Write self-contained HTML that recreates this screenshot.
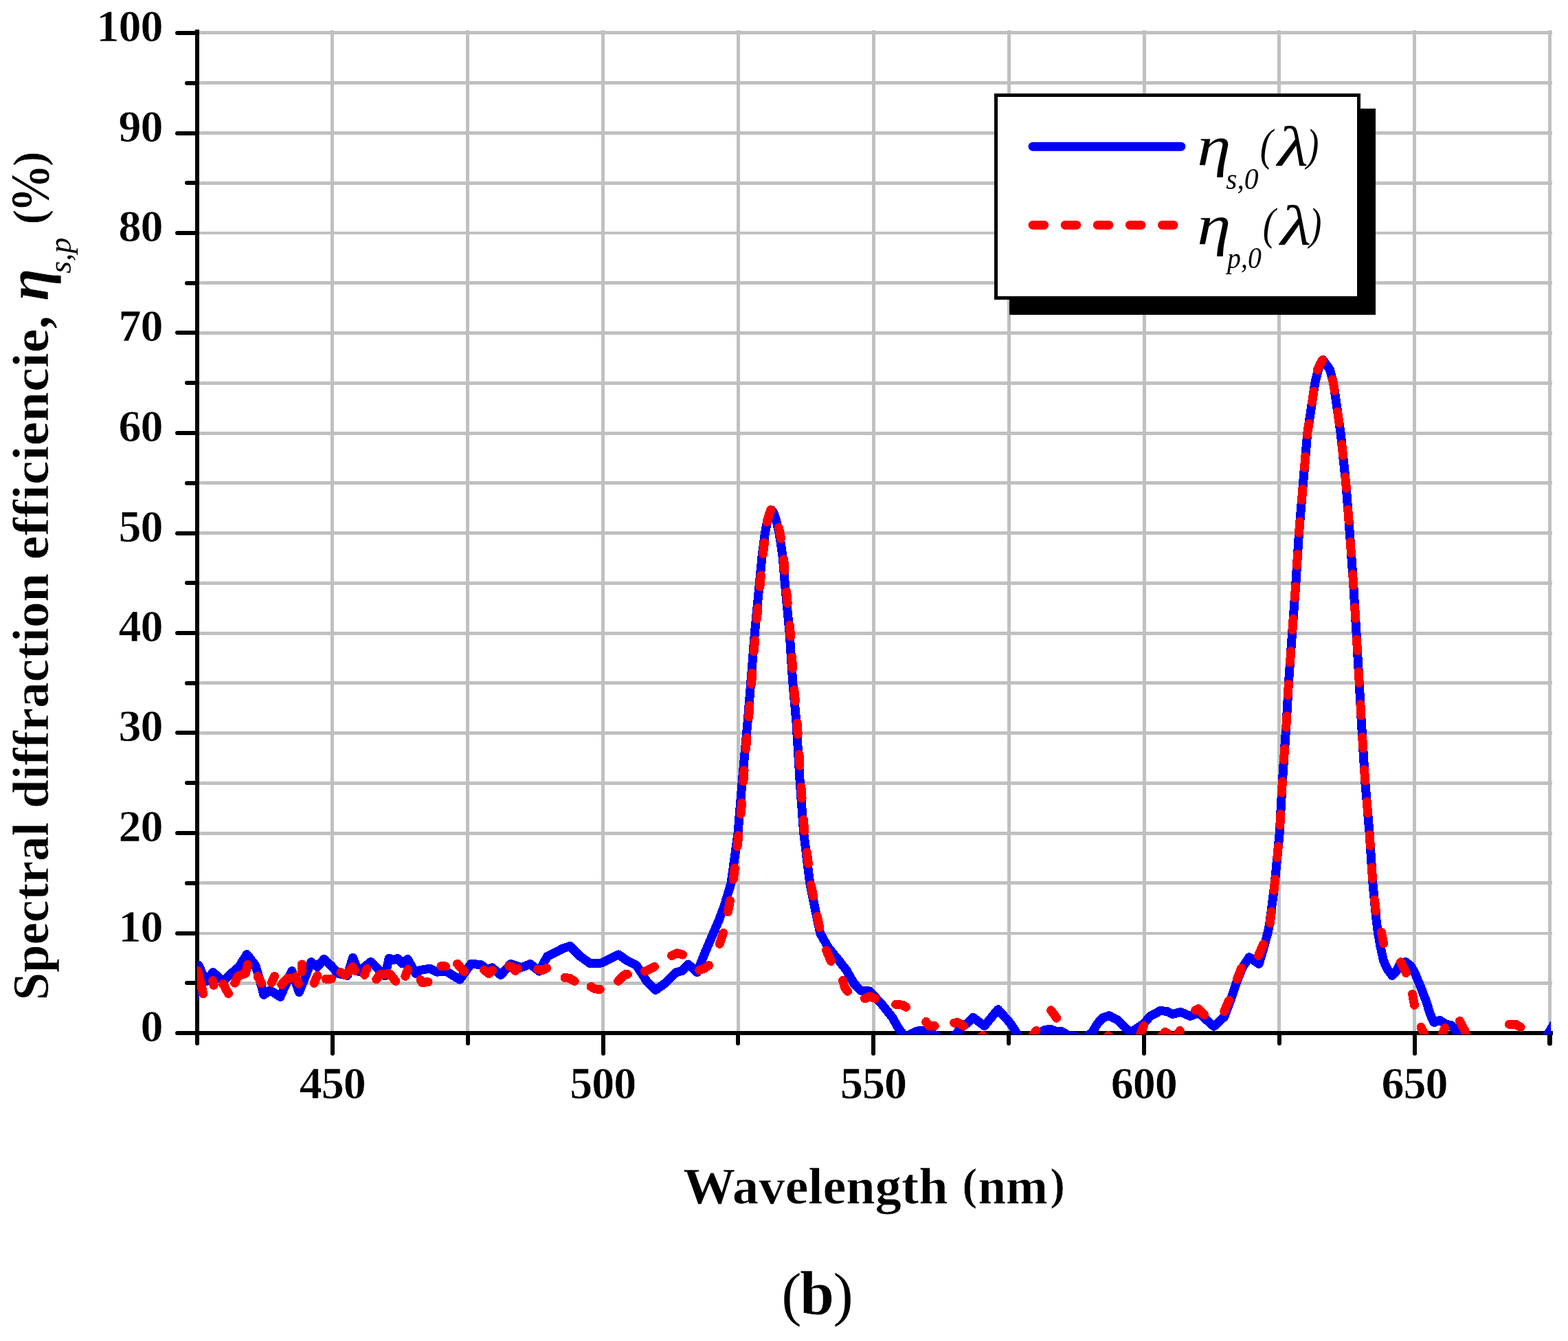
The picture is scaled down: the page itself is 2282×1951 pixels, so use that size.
<!DOCTYPE html>
<html lang="en"><head><meta charset="utf-8"><title>Spectral diffraction efficiency (b)</title>
<style>
html,body{margin:0;padding:0;background:#fff;}
body{width:2282px;height:1951px;overflow:hidden;}
svg{display:block;}
text{font-family:"Liberation Serif","DejaVu Serif",serif;fill:#000;}
.b{font-weight:bold;stroke:#fff;stroke-width:0.6px;}
.i{font-style:italic;}
.bi{font-weight:bold;font-style:italic;stroke:#fff;stroke-width:0.6px;}
.g{fill:#c0c0c0;}
.k{fill:#000;}
.blue{fill:none;stroke:#0000ff;stroke-width:13;stroke-linecap:round;stroke-linejoin:round;}
.red{fill:none;stroke:#ff0000;stroke-width:13;stroke-linecap:round;stroke-linejoin:round;}
</style></head><body>
<svg width="2282" height="1951" viewBox="0 0 2282 1951">
<defs><clipPath id="plotclip"><rect x="287" y="0" width="1970" height="1505"/></clipPath></defs>
<rect x="0" y="0" width="2282" height="1951" fill="#fff"/>
<g class="g" shape-rendering="crispEdges">
<rect x="287" y="1428" width="1972" height="5"/>
<rect x="287" y="1356" width="1972" height="4"/>
<rect x="287" y="1282" width="1972" height="5"/>
<rect x="287" y="1210" width="1972" height="5"/>
<rect x="287" y="1137" width="1972" height="5"/>
<rect x="287" y="1064" width="1972" height="5"/>
<rect x="287" y="991" width="1972" height="5"/>
<rect x="287" y="919" width="1972" height="5"/>
<rect x="287" y="846" width="1972" height="5"/>
<rect x="287" y="773" width="1972" height="5"/>
<rect x="287" y="700" width="1972" height="5"/>
<rect x="287" y="628" width="1972" height="5"/>
<rect x="287" y="555" width="1972" height="5"/>
<rect x="287" y="482" width="1972" height="5"/>
<rect x="287" y="409" width="1972" height="5"/>
<rect x="287" y="337" width="1972" height="4"/>
<rect x="287" y="264" width="1972" height="5"/>
<rect x="287" y="191" width="1972" height="5"/>
<rect x="287" y="118" width="1972" height="5"/>
<rect x="287" y="45" width="1972" height="5"/>
<rect x="481" y="44" width="5" height="1459"/>
<rect x="678" y="44" width="5" height="1459"/>
<rect x="875" y="44" width="5" height="1459"/>
<rect x="1072" y="44" width="5" height="1459"/>
<rect x="1269" y="44" width="5" height="1459"/>
<rect x="1466" y="44" width="5" height="1459"/>
<rect x="1663" y="44" width="5" height="1459"/>
<rect x="1859" y="44" width="5" height="1459"/>
<rect x="2056" y="44" width="5" height="1459"/>
<rect x="2253" y="44" width="5" height="1459"/>
</g>
<g class="k" shape-rendering="crispEdges">
<rect x="284" y="43" width="6" height="1463"/>
<rect x="284" y="1500" width="1976" height="6"/>
</g>
<g stroke="#000" stroke-width="6" stroke-linecap="round" fill="none">
<path d="M258 1503H286"/>
<path d="M272 1430H286"/>
<path d="M258 1358H286"/>
<path d="M272 1285H286"/>
<path d="M258 1212H286"/>
<path d="M272 1139H286"/>
<path d="M258 1066H286"/>
<path d="M272 994H286"/>
<path d="M258 921H286"/>
<path d="M272 848H286"/>
<path d="M258 776H286"/>
<path d="M272 703H286"/>
<path d="M258 630H286"/>
<path d="M272 557H286"/>
<path d="M258 484H286"/>
<path d="M272 412H286"/>
<path d="M258 339H286"/>
<path d="M272 266H286"/>
<path d="M258 194H286"/>
<path d="M272 121H286"/>
<path d="M258 48H286"/>
<path d="M287 1504V1518"/>
<path d="M484 1504V1532.8"/>
<path d="M681 1504V1518"/>
<path d="M878 1504V1532.8"/>
<path d="M1074 1504V1518"/>
<path d="M1271 1504V1532.8"/>
<path d="M1468 1504V1518"/>
<path d="M1665 1504V1532.8"/>
<path d="M1862 1504V1518"/>
<path d="M2059 1504V1532.8"/>
<path d="M2255.5 1504V1518" stroke-width="7"/>
</g>
<g clip-path="url(#plotclip)" shape-rendering="crispEdges">
<path class="blue" d="M283.0 1452.0 L289.0 1404.5 L300.0 1428.0 L309.9 1414.5 L324.4 1427.5 L337.9 1415.0 L347.6 1406.8 L359.3 1388.5 L371.7 1404.4 L378.0 1425.0 L383.8 1447.4 L392.9 1440.7 L407.9 1450.3 L424.8 1412.6 L435.4 1443.6 L452.8 1399.6 L462.0 1406.6 L471.6 1395.3 L482.2 1405.3 L491.9 1416.3 L505.4 1419.4 L513.6 1393.5 L521.8 1413.4 L529.5 1407.6 L539.6 1399.4 L546.9 1406.6 L560.4 1419.9 L566.2 1394.0 L572.0 1397.0 L578.7 1394.5 L585.5 1401.8 L593.2 1395.4 L599.0 1405.6 L604.8 1416.3 L611.5 1411.4 L626.0 1409.2 L635.7 1414.1 L650.0 1413.5 L669.0 1425.2 L685.4 1402.5 L699.8 1403.4 L709.5 1410.6 L716.3 1407.8 L728.8 1418.5 L743.3 1402.5 L758.7 1407.6 L771.8 1402.5 L784.8 1413.2 L796.4 1391.6 L808.0 1385.6 L819.0 1380.0 L829.5 1376.5 L844.1 1391.2 L858.6 1401.5 L875.0 1401.0 L887.6 1395.2 L900.1 1388.9 L911.7 1396.9 L926.2 1404.5 L935.8 1419.0 L940.7 1426.9 L954.2 1440.4 L967.7 1430.7 L984.1 1414.8 L992.8 1412.4 L1001.5 1402.9 L1014.5 1414.5 L1025.1 1388.3 L1038.1 1357.9 L1045.8 1340.0 L1053.9 1318.5 L1064.0 1285.0 L1074.0 1212.1 L1080.0 1139.3 L1088.1 1050.0 L1092.7 993.6 L1098.4 921.1 L1105.4 848.3 L1108.9 810.4 L1113.4 775.5 L1116.3 760.2 L1120.5 746.0 L1123.3 742.4 L1126.5 747.0 L1130.5 760.2 L1134.0 775.5 L1139.2 810.4 L1142.3 848.3 L1149.1 921.1 L1153.8 993.6 L1158.9 1050.0 L1164.3 1139.3 L1169.7 1212.1 L1178.7 1285.0 L1189.9 1340.0 L1193.8 1357.9 L1205.4 1378.6 L1221.3 1397.9 L1232.4 1412.4 L1242.5 1430.4 L1252.7 1441.4 L1265.2 1441.8 L1283.1 1460.7 L1298.5 1480.0 L1306.7 1494.4 L1313.5 1504.0 L1320.0 1510.0 L1326.0 1504.0 L1333.7 1500.4 L1340.0 1499.0 L1350.0 1501.0 L1359.3 1505.6 L1380.6 1517.0 L1391.2 1504.5 L1402.7 1490.8 L1407.5 1489.0 L1416.3 1480.4 L1432.7 1492.6 L1452.5 1468.6 L1470.3 1488.6 L1478.0 1500.0 L1484.0 1515.0 L1505.0 1514.0 L1512.0 1503.0 L1520.0 1498.5 L1528.2 1497.2 L1537.0 1500.5 L1545.0 1500.7 L1556.7 1507.2 L1563.0 1507.0 L1572.0 1510.5 L1579.8 1508.4 L1589.5 1502.2 L1597.2 1489.1 L1604.9 1480.9 L1614.1 1477.5 L1626.2 1483.8 L1635.8 1493.5 L1645.5 1502.2 L1655.0 1496.0 L1664.8 1489.1 L1674.4 1478.0 L1688.9 1470.5 L1698.6 1471.5 L1706.5 1475.5 L1718.3 1472.4 L1731.9 1478.3 L1744.4 1473.7 L1766.6 1493.3 L1782.0 1479.0 L1790.7 1455.8 L1799.1 1430.4 L1808.1 1407.6 L1818.2 1392.6 L1832.2 1402.5 L1839.3 1378.6 L1844.8 1357.9 L1847.6 1345.0 L1855.2 1285.0 L1862.2 1212.1 L1866.2 1139.3 L1872.3 1050.0 L1875.4 993.6 L1880.6 921.1 L1885.9 848.3 L1890.5 775.4 L1896.6 702.4 L1902.8 630.0 L1913.8 557.2 L1918.6 537.8 L1925.4 523.5 L1935.5 537.8 L1940.6 557.2 L1951.1 630.0 L1958.7 702.4 L1963.2 760.0 L1969.6 848.3 L1974.0 921.1 L1978.2 993.6 L1981.3 1050.0 L1986.9 1139.3 L1993.1 1212.1 L1997.9 1285.0 L2003.2 1340.0 L2005.6 1357.9 L2009.3 1378.6 L2013.6 1397.9 L2019.0 1410.0 L2026.2 1419.4 L2033.0 1412.0 L2038.0 1402.0 L2045.5 1399.6 L2053.0 1405.0 L2059.0 1415.0 L2065.3 1430.4 L2075.4 1455.8 L2081.2 1475.1 L2087.0 1487.5 L2095.7 1484.5 L2104.0 1490.0 L2112.0 1491.8 L2117.0 1497.0 L2124.0 1508.0 L2130.0 1525.0 M2244.0 1519.0 L2249.7 1509.4 L2262.7 1488.2"/>
<path class="red" d="M287.7 1412.6 L295.9 1445.9 M309.7 1426.6 L311.1 1433.4 M324.6 1431.4 L332.4 1445.5 M341.8 1430.1 L346.1 1420.1 L357.2 1416.3 L360.6 1403.4 M375.1 1420.3 L380.4 1430.5 M399.5 1420.3 L395.3 1429.6 M409.8 1432.5 L417.5 1423.8 L422.9 1423.2 M430.6 1420.9 L434.4 1431.2 M439.5 1402.9 L439.3 1413.6 M462.0 1419.4 L457.1 1430.3 M474.0 1424.2 L482.4 1424.2 M495.9 1414.8 L503.0 1418.7 L513.3 1406.6 L516.3 1412.2 M533.8 1409.3 L530.5 1418.4 M547.8 1424.9 L552.7 1417.7 L567.1 1416.7 L575.8 1427.3 M593.7 1410.5 L589.8 1420.3 M612.0 1425.4 L614.4 1429.3 L623.1 1428.8 M642.0 1405.6 L648.5 1406.0 M665.6 1402.3 L675.5 1413.6 M704.5 1411.4 L711.4 1416.4 L716.7 1411.4 M740.9 1405.6 L745.2 1406.6 L749.6 1412.4 L753.7 1409.5 M782.7 1410.0 L789.1 1411.6 L795.6 1408.5 M822.0 1422.3 L829.2 1423.5 L836.2 1427.4 M860.1 1435.4 L866.3 1438.9 L873.3 1439.4 M899.6 1427.4 L906.9 1420.1 L909.8 1417.7 L913.4 1417.5 M938.7 1413.2 L945.5 1410.0 L952.4 1406.4 M977.6 1390.4 L985.5 1386.8 L993.6 1389.0 M1017.8 1411.5 L1025.1 1409.0 L1031.7 1404.5 M1047.3 1373.3 L1052.6 1357.6 M1202.5 1382.7 L1209.4 1398.4 M1226.6 1426.6 L1229.5 1436.5 L1233.6 1442.3 M1258.6 1452.7 L1266.2 1449.6 L1273.7 1452.7 M1303.6 1461.4 L1313.5 1462.1 L1318.6 1465.3 M1347.6 1486.5 L1351.5 1492.3 L1360.3 1492.5 M1388.7 1488.2 L1394.1 1487.5 L1402.5 1492.7 M1424.0 1513.0 L1429.8 1506.7 L1436.0 1513.0 M1500.0 1512.0 L1503.1 1506.0 L1508.1 1499.5 M1529.7 1469.8 L1537.7 1481.2 M1606.0 1513.0 L1612.7 1506.7 L1620.0 1513.0 M1656.0 1513.0 L1659.0 1506.0 L1664.6 1492.5 M1688.0 1510.0 L1695.7 1501.4 L1700.0 1504.0 L1705.0 1513.0 M1709.0 1513.0 L1712.7 1506.0 L1717.4 1499.5 M1739.8 1469.8 L1743.9 1467.6 L1752.6 1476.6 M1781.9 1471.5 L1784.9 1463.6 L1788.6 1455.5 M1800.4 1424.5 L1806.7 1408.5 M1831.5 1390.4 L1838.5 1373.8 M2010.3 1356.2 L2013.6 1372.6 M2038.5 1399.7 L2046.4 1415.5 M2055.6 1446.4 L2058.5 1462.4 M2068.2 1494.4 L2073.5 1506.0 L2076.0 1513.0 M2096.0 1513.0 L2098.7 1506.0 L2102.7 1495.6 M2124.5 1485.6 L2132.2 1500.2 L2136.0 1513.0 M2196.4 1490.3 L2206.5 1490.6 L2213.1 1494.4 M1059.5 1326.6 L1061.0 1318.5 L1062.4 1310.4 M1067.2 1279.3 L1068.4 1271.0 L1069.4 1262.9 M1073.0 1231.8 L1074.0 1223.6 L1074.8 1215.4 M1078.0 1184.4 L1078.9 1176.0 L1079.5 1168.0 M1081.9 1137.0 L1082.5 1128.8 L1083.1 1120.6 M1085.6 1089.5 L1086.2 1081.3 L1087.0 1073.1 M1089.7 1042.8 L1091.0 1026.4 M1093.6 995.4 L1093.7 993.6 L1094.8 979.0 M1097.3 947.9 L1098.6 931.5 M1101.4 900.5 L1103.0 884.1 M1105.9 853.4 L1106.4 848.3 L1107.4 837.0 M1110.5 805.7 L1112.5 789.3 M1133.3 767.4 L1135.2 775.5 L1136.4 783.6 M1140.7 813.8 L1142.0 830.2 M1144.7 861.2 L1146.2 877.6 M1149.2 909.5 L1150.3 921.1 L1150.6 925.9 M1152.6 956.1 L1153.6 972.5 M1155.9 1003.5 L1157.4 1019.9 M1160.2 1052.0 L1161.2 1068.4 M1163.0 1097.7 L1164.0 1114.1 M1165.9 1145.1 L1167.1 1161.5 M1169.5 1192.6 L1170.7 1209.0 M1174.3 1240.0 L1176.4 1256.4 M1180.4 1287.5 L1183.6 1303.7 M1189.6 1333.4 L1190.9 1340.0 L1192.8 1349.6 M1848.4 1342.8 L1850.4 1326.4 M1854.0 1295.4 L1855.2 1285.0 L1855.8 1279.0 M1858.8 1247.9 L1860.3 1231.5 M1862.8 1200.8 L1863.7 1184.4 M1865.4 1153.4 L1866.2 1139.3 L1866.4 1137.0 M1868.5 1105.6 L1869.6 1089.2 M1871.7 1058.2 L1872.3 1050.0 L1872.8 1041.8 M1874.4 1011.5 L1875.3 995.1 M1877.5 964.0 L1878.7 947.6 M1880.9 916.6 L1882.1 900.2 M1884.3 869.7 L1885.5 853.3 M1887.5 822.6 L1888.6 806.2 M1890.5 775.1 L1891.9 758.7 M1894.5 727.7 L1895.9 711.3 M1898.5 680.5 L1899.9 664.1 M1902.6 632.7 L1902.8 630.0 L1904.9 616.3 M1909.5 585.4 L1912.0 569.0 M1939.2 552.1 L1940.6 557.2 L1942.2 568.3 M1946.6 599.0 L1949.0 615.4 M1952.8 646.5 L1954.6 662.9 M1957.8 693.9 L1958.7 702.4 L1959.3 710.3 M1961.7 741.3 L1963.0 757.7 M1965.3 788.4 L1966.4 804.8 M1968.7 835.3 L1969.6 848.3 L1969.8 851.7 M1971.7 883.3 L1972.7 899.7 M1974.5 930.2 L1975.5 946.6 M1977.3 977.3 L1978.2 993.6 L1978.2 993.7 M1979.9 1024.7 L1980.8 1041.1 M1982.7 1072.3 L1983.7 1088.7 M1985.6 1119.4 L1986.7 1135.8 M1989.2 1166.3 L1990.6 1182.7 M1993.2 1214.3 L1994.3 1230.7 M1996.4 1262.0 L1997.5 1278.4 M2000.6 1309.1 L2002.4 1325.5 M1116.1 759.4 L1119.5 748.0 L1121.9 741.8 M1917.4 538.1 L1921.5 529.0 L1924.8 523.5"/>
</g>
<g shape-rendering="crispEdges">
<rect x="1469" y="158" width="533" height="300" fill="#000"/>
<rect x="1449.5" y="138.5" width="528" height="295" fill="#fff" stroke="#000" stroke-width="5"/>
</g>
<path class="blue" d="M1503.1 213.2H1718.8"/>
<path class="red" stroke-dasharray="16.5 30.6" d="M1503.1 327.4H1710"/>
<text class="i" transform="translate(1742.20 239.50) scale(1.2000 1)" font-size="82.60">η</text>
<text class="i" transform="translate(1784.20 274.90) scale(0.9250 1)" font-size="45.00">s,0</text>
<text class="i" transform="translate(1833.70 233.40) scale(0.8550 1)" font-size="64.80">(</text>
<text class="i" transform="translate(1859.30 240.90) scale(1.2500 1)" font-size="82.90">λ</text>
<text class="i" transform="translate(1901.40 233.40) scale(0.8300 1)" font-size="64.80">)</text>
<text class="i" transform="translate(1742.20 354.50) scale(1.2000 1)" font-size="82.60">η</text>
<text class="i" transform="translate(1786.10 389.90) scale(0.8840 1)" font-size="45.00">p,0</text>
<text class="i" transform="translate(1837.80 348.40) scale(0.8550 1)" font-size="64.80">(</text>
<text class="i" transform="translate(1863.40 355.90) scale(1.2500 1)" font-size="82.90">λ</text>
<text class="i" transform="translate(1905.50 348.40) scale(0.8300 1)" font-size="64.80">)</text>
<g class="b" font-size="66" letter-spacing="-1">
<text x="236.6" y="1515" text-anchor="end">0</text>
<text x="236.6" y="1370" text-anchor="end">10</text>
<text x="236.6" y="1224" text-anchor="end">20</text>
<text x="236.6" y="1078" text-anchor="end">30</text>
<text x="236.6" y="933" text-anchor="end">40</text>
<text x="236.6" y="788" text-anchor="end">50</text>
<text x="236.6" y="642" text-anchor="end">60</text>
<text x="236.6" y="496" text-anchor="end">70</text>
<text x="236.6" y="351" text-anchor="end">80</text>
<text x="236.6" y="206" text-anchor="end">90</text>
<text x="236.6" y="60" text-anchor="end">100</text>
<text x="483.7" y="1597.6" text-anchor="middle">450</text>
<text x="877.3" y="1597.6" text-anchor="middle">500</text>
<text x="1271.0" y="1597.6" text-anchor="middle">550</text>
<text x="1664.8" y="1597.6" text-anchor="middle">600</text>
<text x="2058.4" y="1597.6" text-anchor="middle">650</text>
</g>
<text class="b" transform="translate(994.04 1751.20) scale(1.0450 1)" font-size="73.00">Wavelength</text>
<text class="b" transform="translate(1400.60 1745.30)" font-size="65.00">(</text>
<text class="b" transform="translate(1423.50 1751.20)" font-size="73.00">nm</text>
<text class="b" transform="translate(1528.25 1745.30)" font-size="65.00">)</text>
<text transform="translate(1137.40 1911.80)" font-size="86.70">(</text>
<text class="b" transform="translate(1163.90 1912.10)" font-size="90.00">b</text>
<text transform="translate(1212.80 1911.80)" font-size="86.70">)</text>
<text class="b" transform="translate(70.00 1455.60) rotate(-90)" font-size="73.00">Spectral</text>
<text class="b" transform="translate(70.00 1176.10) rotate(-90) scale(1.0290 1)" font-size="73.00">diffraction</text>
<text class="b" transform="translate(70.00 814.50) rotate(-90) scale(1.0775 1)" font-size="73.00">efficiencie</text>
<text class="bi" transform="translate(71.00 475.50) rotate(-90)" font-size="80.00">,</text>
<text class="bi" transform="translate(70.00 437.80) rotate(-90)" font-size="86.00">η</text>
<text class="i" transform="translate(103.40 397.80) rotate(-90)" font-size="46.00">s,p</text>
<text class="b" transform="translate(64.00 326.60) rotate(-90)" font-size="65.00">(</text>
<text class="b" transform="translate(71.10 309.00) rotate(-90) scale(0.8800 1)" font-size="80.00">%</text>
<text class="b" transform="translate(64.00 241.90) rotate(-90)" font-size="65.00">)</text>
</svg></body></html>
